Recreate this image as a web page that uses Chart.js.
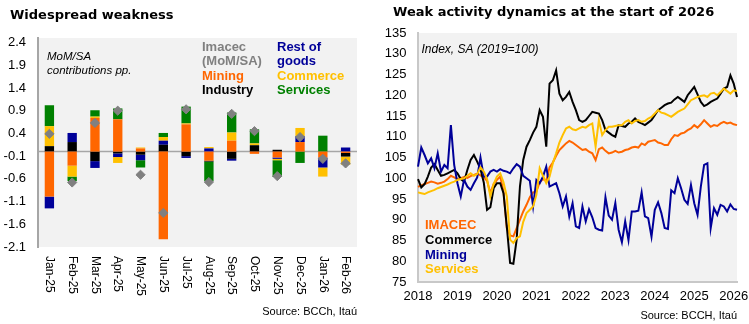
<!DOCTYPE html>
<html>
<head>
<meta charset="utf-8">
<script src="https://cdn.jsdelivr.net/npm/chart.js@4.4.1/dist/chart.umd.min.js"></script>
<style>
html,body{margin:0;padding:0;background:#fff;}
#wrap{position:relative;width:749px;height:324px;overflow:hidden;}
#left{position:absolute;left:0;top:0;}
#right{position:absolute;left:375px;top:0;}
</style>
</head>
<body>
<div id="wrap">
  <div id="left"><canvas id="c1" width="372" height="324"></canvas></div>
  <div id="right"><canvas id="c2" width="374" height="324"></canvas></div>
</div>
<script>
// contributions to monthly Imacec, pp.
const months = ["Jan-25","Feb-25","Mar-25","Apr-25","May-25","Jun-25","Jul-25","Aug-25","Sep-25","Oct-25","Nov-25","Dec-25","Jan-26","Feb-26"];
const mining      = [-0.99,-0.31, 0.74, 0.71, 0.07,-1.93, 0.60,-0.20, 0.24,-0.05,-0.13, 0.21,-0.13,-0.03];
const industry    = [ 0.12, 0.21,-0.21,-0.04,-0.07, 0.15,-0.10,-0.02,-0.16, 0.14, 0.04, 0.00, 0.00,-0.08];
const restOfGoods = [-0.26, 0.20,-0.15,-0.08,-0.12, 0.09,-0.04, 0.07,-0.04, 0.00,-0.03, 0.13,-0.22, 0.09];
const commerce    = [ 0.44,-0.24, 0.03,-0.13, 0.02, 0.08, 0.02, 0.03, 0.18, 0.04,-0.03, 0.18,-0.20,-0.18];
const services    = [ 0.46,-0.10, 0.14, 0.24,-0.16, 0.09, 0.37,-0.43, 0.44, 0.31,-0.37,-0.25, 0.35, 0.00];
const imacecMoM   = [ 0.39,-0.68, 0.63, 0.90,-0.51,-1.35, 0.93,-0.67, 0.83, 0.45,-0.54, 0.32,-0.16,-0.26];
const momTicks = [-2.1,-1.6,-1.1,-0.6,-0.1,0.4,0.9,1.4,1.9,2.4];

// monthly indices, Jan-2018 .. Feb-2026 (2019=100)
const startYear = 2018;
const imacecIdx = [
  97.9, 98.3, 98.6, 98.9, 99.2, 99.0, 98.7, 98.9, 99.2, 99.8,100.6,100.2,
  99.8,100.0,100.3,100.1,100.5,100.8,101.1,100.7,100.2, 99.4, 96.4, 98.6,
  99.6,100.4, 96.8, 88.0, 86.2, 86.0, 88.0, 90.0, 92.0, 93.6, 95.4, 96.6,
  96.8, 99.0, 99.8, 99.4,102.6,103.8,105.4,106.8,107.6,108.4,109.0,108.6,
 108.0,107.4,106.8,107.0,106.4,106.0,104.4,107.0,107.4,106.6,106.0,106.2,
 106.6,106.2,106.4,106.8,107.0,107.4,107.6,107.4,108.4,108.0,108.8,109.0,
 109.2,108.6,108.4,108.0,108.0,109.4,110.4,110.2,110.8,111.0,111.6,112.0,
 112.8,112.2,113.0,114.0,113.2,112.4,112.8,112.6,113.2,113.6,113.2,113.4,
 113.0,112.8];
const commerceIdx = [
  99.8, 97.8, 98.6,100.4,102.6,103.4,102.0,100.6,100.8,101.2,101.6,102.0,
 101.2, 99.8, 99.2,102.0,104.4,105.6,104.0,102.2, 99.0, 92.4, 93.0, 97.6,
  98.8, 98.8, 96.4, 88.4, 79.6, 79.4, 85.2, 98.0,104.4,107.6,109.2,111.0,
 112.4,116.4,114.8,107.6,122.8,123.6,126.0,120.4,118.8,119.6,120.8,118.4,
 116.4,114.0,113.6,114.0,115.0,116.0,115.8,115.6,114.0,111.6,111.0,110.4,
 110.0,112.8,112.6,112.4,113.2,113.6,114.4,113.6,113.2,112.8,113.4,114.0,
 115.2,116.4,117.0,117.6,118.0,118.2,119.0,119.6,119.0,118.4,120.0,121.0,
 122.0,120.2,118.4,117.4,117.8,118.4,118.8,119.2,120.4,121.6,122.0,124.8,
 122.8,119.6];
const miningIdx = [
 102.8,107.4,105.6,103.6,104.8,102.4,106.0,101.6,103.2,102.4,112.8,103.2,
  98.8, 95.6, 99.6, 98.0, 97.2, 98.8,100.2,105.0,100.4,100.4,101.6,102.0,
 101.6,102.2,101.8,101.6,101.2,102.4,103.4,102.8,100.6,100.0, 99.4, 93.2,
  99.6, 98.8,100.4,102.8, 98.0, 98.4, 98.8, 96.4, 93.2, 95.6, 90.8, 94.0,
  88.4, 88.0, 93.2, 89.6, 92.5, 90.6, 88.0, 87.6, 87.4, 95.4, 91.0, 90.0,
  94.0, 87.6, 84.6, 89.6, 85.1, 92.0, 92.0, 92.2, 96.6, 90.8, 90.4, 85.9,
  92.4, 94.2, 91.6, 88.0, 87.8, 97.1, 96.4,100.0, 97.6, 94.8, 93.8, 98.4,
  94.0, 91.2, 98.0,103.2,103.6, 88.0, 92.8, 91.2, 93.6, 93.2, 92.0, 93.7,
  92.6, 92.4];
const servicesIdx = [
  96.6, 96.4, 96.2, 96.6, 96.9, 97.2, 97.6, 97.9, 98.2, 98.5, 98.9, 99.2,
  99.6, 99.8,100.0,100.6,101.2,100.6,101.0,102.6,101.6, 99.8, 95.6, 98.6,
 100.4,101.2, 99.0, 95.6, 85.2, 84.4, 85.6, 86.0, 89.5, 91.6, 92.4, 93.2,
  96.0,102.4,100.6, 98.8,100.4,103.6,106.0,108.6,110.4,112.0,112.4,111.8,
 111.6,112.0,112.4,112.2,112.8,113.2,107.6,114.0,110.4,111.6,112.4,112.4,
 112.6,112.8,112.8,113.6,114.0,113.2,113.8,114.0,113.6,113.8,114.4,114.8,
 115.6,116.4,115.8,115.6,115.2,114.8,115.4,116.0,116.4,116.8,117.8,118.8,
 119.2,119.6,119.8,120.0,119.6,120.4,120.6,120.0,120.8,121.6,121.0,120.4,
 121.2,121.0];

const monthKeys = imacecIdx.map((_, i) =>
  (startYear + Math.floor(i / 12)) + '-' + String(i % 12 + 1).padStart(2, '0'));

const SANS = '"Liberation Sans", Arial, sans-serif';
const TITLE = 'bold 13px "DejaVu Sans", Verdana, sans-serif';
Chart.defaults.font.family = SANS;
Chart.defaults.color = '#000';

const plotBg = {
  id: 'plotBg',
  beforeDraw(chart) {
    const {ctx, chartArea: a} = chart;
    ctx.save();
    ctx.fillStyle = '#f2f2f2';
    ctx.fillRect(a.left, a.top, a.right - a.left, a.bottom - a.top);
    ctx.restore();
  }
};

function writeLines(ctx, items, font) {
  ctx.font = font;
  ctx.textAlign = 'left';
  ctx.textBaseline = 'middle';
  items.forEach(([t, c, x, y]) => { ctx.fillStyle = c; ctx.fillText(t, x, y); });
}

// zero line, vertical month labels, key
const barNotes = {
  id: 'barNotes',
  beforeDatasetsDraw(chart) {
    const {ctx, chartArea: a, scales: {y}} = chart;
    const y0 = y.getPixelForValue(0);
    ctx.save();
    ctx.strokeStyle = '#a6a6a6';
    ctx.lineWidth = 1.5;
    ctx.beginPath();
    ctx.moveTo(a.left, y0);
    ctx.lineTo(a.right, y0);
    ctx.stroke();
    ctx.restore();
  },
  afterDraw(chart) {
    const {ctx, chartArea: a, scales: {x}} = chart;
    ctx.save();
    writeLines(ctx, [['Widespread weakness', '#000', 10, 16]], TITLE);
    ctx.fillStyle = '#000';
    ctx.font = '12px ' + SANS;
    months.forEach((m, i) => {
      ctx.save();
      ctx.translate(x.getPixelForValue(i), a.bottom + 9);
      ctx.rotate(Math.PI / 2);
      ctx.fillText(m, 0, 0);
      ctx.restore();
    });
    writeLines(ctx, [
      ['MoM/SA', '#000', 47, 56.5],
      ['contributions pp.', '#000', 47, 71]
    ], 'italic 11.5px ' + SANS);
    writeLines(ctx, [
      ['Imacec', '#808080', 202, 47],
      ['(MoM/SA)', '#808080', 202, 61.5],
      ['Mining', '#ff6600', 202, 76],
      ['Industry', '#000000', 202, 90.5],
      ['Rest of', '#000099', 277, 47],
      ['goods', '#000099', 277, 61.5],
      ['Commerce', '#ffc000', 277, 76],
      ['Services', '#008000', 277, 90.5]
    ], 'bold 13px ' + SANS);
    ctx.restore();
  }
};

const lineNotes = {
  id: 'lineNotes',
  afterDraw(chart) {
    const {ctx} = chart;
    ctx.save();
    writeLines(ctx, [['Weak activity dynamics at the start of 2026', '#000', 18, 12.3]], TITLE);
    writeLines(ctx, [['Index, SA (2019=100)', '#000', 46.5, 50]], 'italic 12px ' + SANS);
    writeLines(ctx, [
      ['IMACEC', '#ff6600', 50, 225],
      ['Commerce', '#000000', 50, 240],
      ['Mining', '#000099', 50, 255],
      ['Services', '#ffc000', 50, 269.5]
    ], 'bold 13px ' + SANS);
    ctx.restore();
  }
};

new Chart(document.getElementById('c1'), {
  type: 'bar',
  data: {
    labels: months,
    datasets: [
      {type: 'line', label: 'Imacec (MoM/SA)', data: imacecMoM, stack: 'imacec', order: 0,
       showLine: false, pointStyle: 'rectRot', pointRadius: 4.6,
       pointBackgroundColor: '#808080', pointBorderColor: '#808080', pointBorderWidth: 1},
      {label: 'Mining', data: mining, backgroundColor: '#ff6600', stack: 'pp', order: 1},
      {label: 'Industry', data: industry, backgroundColor: '#000000', stack: 'pp', order: 1},
      {label: 'Rest of goods', data: restOfGoods, backgroundColor: '#000099', stack: 'pp', order: 1},
      {label: 'Commerce', data: commerce, backgroundColor: '#ffc000', stack: 'pp', order: 1},
      {label: 'Services', data: services, backgroundColor: '#008000', stack: 'pp', order: 1}
    ]
  },
  options: {
    responsive: false,
    animation: false,
    datasets: {bar: {barPercentage: 0.41, categoryPercentage: 1, borderWidth: 0}},
    layout: {padding: {left: 0, right: 15, top: 38, bottom: 0}},
    plugins: {
      legend: {display: false},
      tooltip: {enabled: false},
      subtitle: {display: true, position: 'bottom', align: 'end', text: 'Source: BCCh, Itaú', color: '#000',
        font: {size: 11, lineHeight: 1.2}, padding: {top: 0, bottom: 5.4}}
    },
    scales: {
      x: {
        stacked: true,
        grid: {display: false, drawTicks: false},
        border: {display: false},
        ticks: {display: false},
        afterFit(s) { s.height = 58.4; }
      },
      y: {
        stacked: true,
        min: -2.1,
        max: 2.5,
        grid: {display: false, drawTicks: false},
        border: {display: true, color: '#a6a6a6', width: 2},
        afterBuildTicks(s) { s.ticks = momTicks.map(v => ({value: v})); },
        ticks: {padding: 12, font: {size: 13}, callback: v => v.toFixed(1)},
        afterFit(s) { s.width = 38; }
      }
    }
  },
  plugins: [plotBg, barNotes]
});

new Chart(document.getElementById('c2'), {
  type: 'line',
  data: {
    labels: monthKeys,
    datasets: [
      {label: 'IMACEC', data: imacecIdx, borderColor: '#ff6600', order: 4},
      {label: 'Commerce', data: commerceIdx, borderColor: '#000000', order: 3},
      {label: 'Mining', data: miningIdx, borderColor: '#000099', order: 2},
      {label: 'Services', data: servicesIdx, borderColor: '#ffc000', order: 1}
    ]
  },
  options: {
    responsive: false,
    animation: false,
    elements: {line: {borderWidth: 2, tension: 0}, point: {radius: 0}},
    layout: {padding: {left: 0, right: 12, top: 33, bottom: 0}},
    plugins: {
      legend: {display: false},
      tooltip: {enabled: false},
      subtitle: {display: true, position: 'bottom', align: 'end', text: 'Source: BCCH, Itaú', color: '#000',
        font: {size: 11, lineHeight: 1.2}, padding: {top: 0, bottom: 1.7}}
    },
    scales: {
      x: {
        grid: {display: false, drawTicks: false},
        border: {display: true, color: '#c8c8c8', width: 2},
        ticks: {
          autoSkip: false, maxRotation: 0, minRotation: 0, padding: 7, font: {size: 13},
          callback(v, i) { const k = monthKeys[i]; return k.endsWith('-01') ? k.slice(0, 4) : ''; }
        },
        afterFit(s) { s.height = 27.1; }
      },
      y: {
        min: 75,
        max: 135,
        grid: {display: false, drawTicks: false},
        border: {display: true, color: '#c8c8c8', width: 2},
        ticks: {stepSize: 5, padding: 11.5, font: {size: 13}},
        afterFit(s) { s.width = 43; }
      }
    }
  },
  plugins: [plotBg, lineNotes]
});
</script>
</body>
</html>
